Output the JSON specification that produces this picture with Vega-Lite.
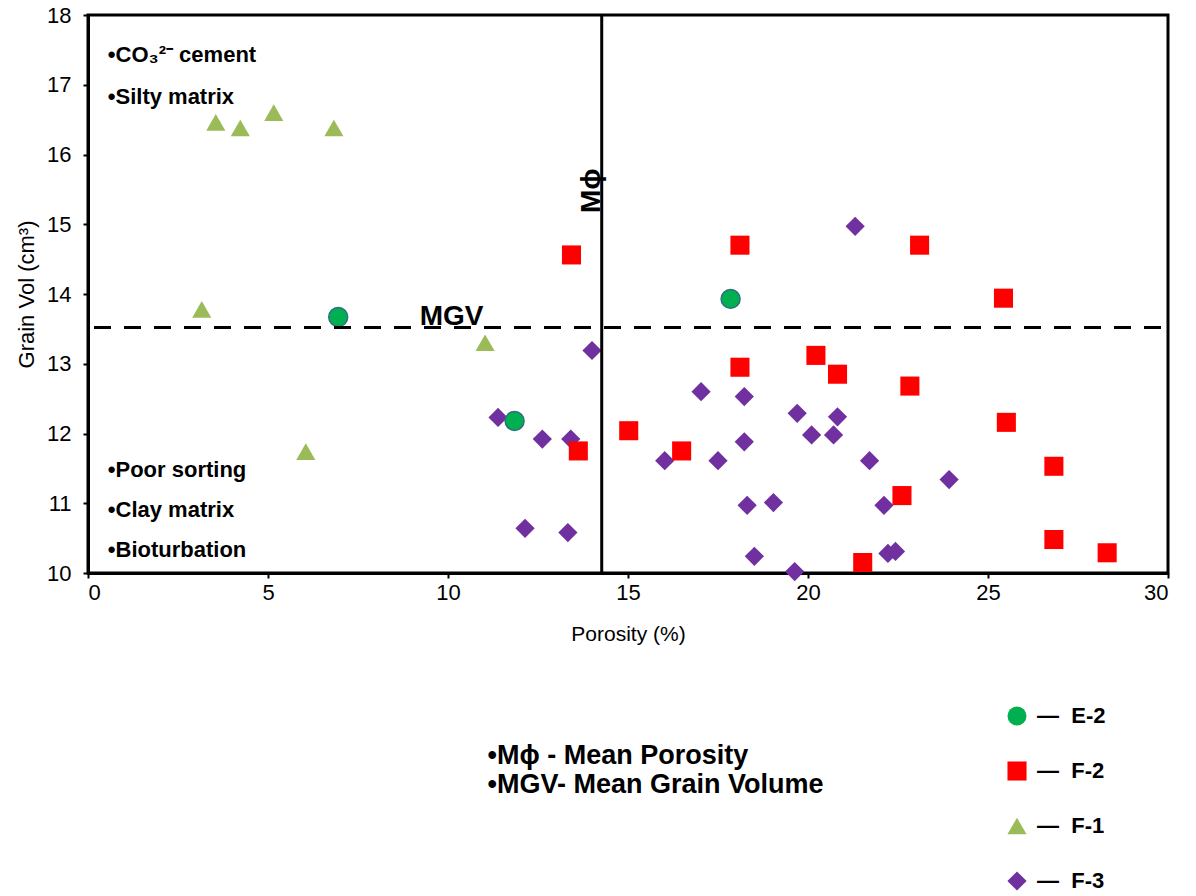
{
  "$schema": "https://vega.github.io/schema/vega-lite/v6.json",
  "width": 1080,
  "height": 558,
  "autosize": {"type": "none"},
  "padding": {"left": 88, "top": 15, "right": 28, "bottom": 323},
  "background": "white",
  "config": {
    "font": "Liberation Sans",
    "view": {"stroke": "#000", "strokeWidth": 3},
    "axis": {
      "grid": false,
      "domainColor": "#000",
      "domainWidth": 3,
      "tickColor": "#000",
      "tickWidth": 2,
      "tickSize": 5,
      "labelFont": "Liberation Sans",
      "labelFontSize": 22,
      "labelColor": "#000",
      "titleFont": "Liberation Sans",
      "titleFontWeight": "normal",
      "titleColor": "#000"
    },
    "legend": {
      "orient": "none",
      "legendX": 918,
      "legendY": 690,
      "symbolSize": 380,
      "symbolStrokeWidth": 0,
      "labelFont": "Liberation Sans",
      "labelFontSize": 22,
      "labelFontWeight": "bold",
      "labelColor": "#000",
      "rowPadding": 33,
      "labelOffset": 9
    }
  },
  "datasets": {
    "points": [
      {"well": "F-3", "porosity": 14.0, "grain_vol": 13.19},
      {"well": "F-3", "porosity": 11.39, "grain_vol": 12.23},
      {"well": "F-3", "porosity": 12.62, "grain_vol": 11.92},
      {"well": "F-3", "porosity": 13.41, "grain_vol": 11.92},
      {"well": "F-3", "porosity": 12.14, "grain_vol": 10.64},
      {"well": "F-3", "porosity": 13.33, "grain_vol": 10.58},
      {"well": "F-3", "porosity": 16.02, "grain_vol": 11.61},
      {"well": "F-3", "porosity": 21.31, "grain_vol": 14.97},
      {"well": "F-3", "porosity": 17.03, "grain_vol": 12.6},
      {"well": "F-3", "porosity": 18.23, "grain_vol": 12.53},
      {"well": "F-3", "porosity": 19.7, "grain_vol": 12.29},
      {"well": "F-3", "porosity": 20.82, "grain_vol": 12.24},
      {"well": "F-3", "porosity": 20.1, "grain_vol": 11.98},
      {"well": "F-3", "porosity": 20.71, "grain_vol": 11.98},
      {"well": "F-3", "porosity": 18.23, "grain_vol": 11.88},
      {"well": "F-3", "porosity": 17.5, "grain_vol": 11.61},
      {"well": "F-3", "porosity": 21.71, "grain_vol": 11.61},
      {"well": "F-3", "porosity": 23.92, "grain_vol": 11.34},
      {"well": "F-3", "porosity": 18.31, "grain_vol": 10.97},
      {"well": "F-3", "porosity": 19.04, "grain_vol": 11.01},
      {"well": "F-3", "porosity": 22.11, "grain_vol": 10.97},
      {"well": "F-3", "porosity": 18.51, "grain_vol": 10.24},
      {"well": "F-3", "porosity": 19.63, "grain_vol": 10.02},
      {"well": "F-3", "porosity": 22.22, "grain_vol": 10.28},
      {"well": "F-3", "porosity": 22.43, "grain_vol": 10.31},
      {"well": "F-1", "porosity": 3.55, "grain_vol": 16.46},
      {"well": "F-1", "porosity": 4.23, "grain_vol": 16.38},
      {"well": "F-1", "porosity": 5.16, "grain_vol": 16.6},
      {"well": "F-1", "porosity": 6.83, "grain_vol": 16.38},
      {"well": "F-1", "porosity": 3.16, "grain_vol": 13.78},
      {"well": "F-1", "porosity": 11.03, "grain_vol": 13.3},
      {"well": "F-1", "porosity": 6.05, "grain_vol": 11.74},
      {"well": "F-2", "porosity": 13.43, "grain_vol": 14.56},
      {"well": "F-2", "porosity": 13.62, "grain_vol": 11.75},
      {"well": "F-2", "porosity": 15.02, "grain_vol": 12.04},
      {"well": "F-2", "porosity": 16.49, "grain_vol": 11.75},
      {"well": "F-2", "porosity": 18.11, "grain_vol": 14.7},
      {"well": "F-2", "porosity": 23.1, "grain_vol": 14.7},
      {"well": "F-2", "porosity": 25.43, "grain_vol": 13.94},
      {"well": "F-2", "porosity": 25.51, "grain_vol": 12.16},
      {"well": "F-2", "porosity": 26.83, "grain_vol": 11.53},
      {"well": "F-2", "porosity": 26.83, "grain_vol": 10.48},
      {"well": "F-2", "porosity": 28.31, "grain_vol": 10.29},
      {"well": "F-2", "porosity": 18.11, "grain_vol": 12.95},
      {"well": "F-2", "porosity": 20.22, "grain_vol": 13.12},
      {"well": "F-2", "porosity": 20.82, "grain_vol": 12.85},
      {"well": "F-2", "porosity": 22.83, "grain_vol": 12.68},
      {"well": "F-2", "porosity": 22.61, "grain_vol": 11.11},
      {"well": "F-2", "porosity": 21.52, "grain_vol": 10.15},
      {"well": "E-2", "porosity": 6.95, "grain_vol": 13.67},
      {"well": "E-2", "porosity": 11.85, "grain_vol": 12.18},
      {"well": "E-2", "porosity": 17.85, "grain_vol": 13.93}
    ],
    "means": [{"mean_porosity": 14.27, "mean_grain_vol": 13.52}],
    "plot_notes": [
      {"note": "•CO₃²⁻ cement", "porosity": 0.55, "grain_vol": 17.43},
      {"note": "•Silty matrix", "porosity": 0.55, "grain_vol": 16.82},
      {"note": "•Poor sorting", "porosity": 0.55, "grain_vol": 11.48},
      {"note": "•Clay matrix", "porosity": 0.55, "grain_vol": 10.9},
      {"note": "•Bioturbation", "porosity": 0.55, "grain_vol": 10.33}
    ],
    "mgv_label": [{"note": "MGV", "porosity": 10.1, "grain_vol": 13.56}],
    "mphi_label": [{"note": "Mϕ", "porosity": 14.22, "grain_vol": 15.48}],
    "bottom_notes": [
      {"note": "•Mϕ - Mean Porosity", "porosity": 11.1, "grain_vol": 7.38},
      {"note": "•MGV- Mean Grain Volume", "porosity": 11.1, "grain_vol": 6.96}
    ]
  },
  "layer": [
    {
      "data": {"name": "points"},
      "mark": {"type": "point", "filled": true, "opacity": 1, "strokeWidth": 1.5},
      "encoding": {
        "x": {
          "field": "porosity",
          "type": "quantitative",
          "title": "Porosity (%)",
          "scale": {"domain": [0, 30], "nice": false},
          "axis": {"values": [0, 5, 10, 15, 20, 25, 30], "format": "d", "labelPadding": 4, "titlePadding": 20, "titleFontSize": 21}
        },
        "y": {
          "field": "grain_vol",
          "type": "quantitative",
          "title": "Grain Vol (cm³)",
          "scale": {"domain": [10, 18], "nice": false},
          "axis": {"values": [10, 11, 12, 13, 14, 15, 16, 17, 18], "format": "d", "labelPadding": 12, "titlePadding": 8, "titleFontSize": 22}
        },
        "color": {
          "field": "well",
          "type": "nominal",
          "scale": {"domain": ["E-2", "F-2", "F-1", "F-3"], "range": ["#00B050", "#FF0000", "#9BBB59", "#7030A0"]},
          "legend": {"title": null, "labelExpr": "'—\u00a0\u00a0' + datum.label"}
        },
        "shape": {
          "field": "well",
          "type": "nominal",
          "scale": {"domain": ["E-2", "F-2", "F-1", "F-3"], "range": ["circle", "square", "triangle-up", "diamond"]},
          "legend": {"title": null, "labelExpr": "'—\u00a0\u00a0' + datum.label"}
        },
        "size": {
          "field": "well",
          "type": "nominal",
          "scale": {"domain": ["E-2", "F-2", "F-1", "F-3"], "range": [360, 370, 420, 700]},
          "legend": null
        },
        "stroke": {
          "condition": {"test": "datum.well === 'E-2'", "value": "#2E6F80"},
          "value": null
        }
      }
    },
    {
      "data": {"name": "means"},
      "mark": {"type": "rule", "color": "#000", "strokeWidth": 3},
      "encoding": {"x": {"field": "mean_porosity", "type": "quantitative"}}
    },
    {
      "data": {"name": "means"},
      "mark": {"type": "rule", "color": "#000", "strokeWidth": 3, "strokeDash": [17, 13], "strokeDashOffset": 23},
      "encoding": {"y": {"field": "mean_grain_vol", "type": "quantitative"}}
    },
    {
      "data": {"name": "plot_notes"},
      "mark": {"type": "text", "align": "left", "baseline": "middle", "fontSize": 22, "fontWeight": "bold", "color": "#000"},
      "encoding": {
        "x": {"field": "porosity", "type": "quantitative"},
        "y": {"field": "grain_vol", "type": "quantitative"},
        "text": {"field": "note"}
      }
    },
    {
      "data": {"name": "mgv_label"},
      "mark": {"type": "text", "align": "center", "baseline": "alphabetic", "fontSize": 28, "fontWeight": "bold", "color": "#000"},
      "encoding": {
        "x": {"field": "porosity", "type": "quantitative"},
        "y": {"field": "grain_vol", "type": "quantitative"},
        "text": {"field": "note"}
      }
    },
    {
      "data": {"name": "mphi_label"},
      "mark": {"type": "text", "align": "center", "baseline": "alphabetic", "angle": 270, "fontSize": 28, "fontWeight": "bold", "color": "#000"},
      "encoding": {
        "x": {"field": "porosity", "type": "quantitative"},
        "y": {"field": "grain_vol", "type": "quantitative"},
        "text": {"field": "note"}
      }
    },
    {
      "data": {"name": "bottom_notes"},
      "mark": {"type": "text", "align": "left", "baseline": "middle", "fontSize": 27, "fontWeight": "bold", "color": "#000"},
      "encoding": {
        "x": {"field": "porosity", "type": "quantitative"},
        "y": {"field": "grain_vol", "type": "quantitative"},
        "text": {"field": "note"}
      }
    }
  ]
}
